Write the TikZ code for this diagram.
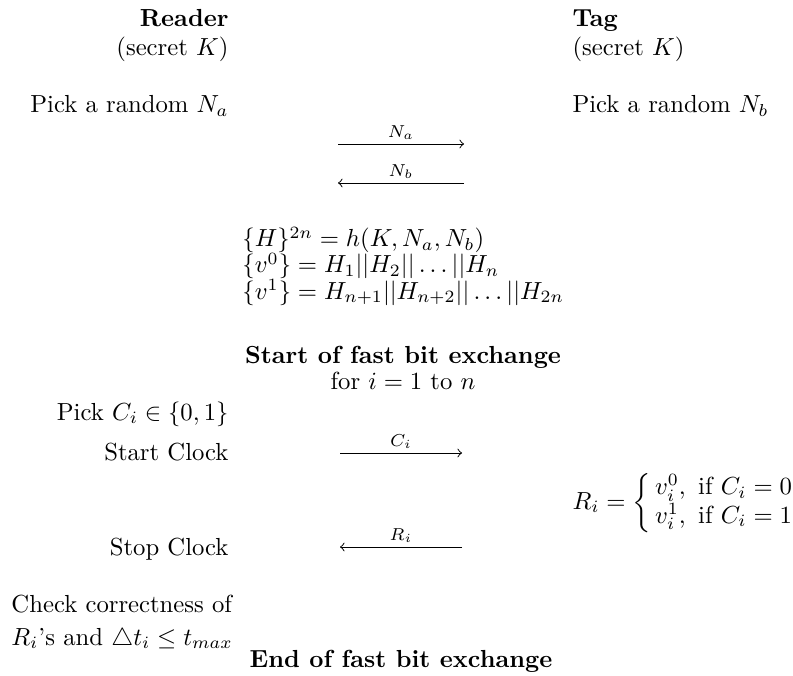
\documentclass[tikz,border=0pt]{standalone}
\usepackage{amsmath}
\usepackage{amssymb}

\begin{document}
\begin{tikzpicture}[
    x=0.405pt, y=-0.405pt,
    reader/.style={anchor=base east, inner sep=0pt},
    tag/.style={anchor=base west, inner sep=0pt},
    calc/.style={anchor=base west, inner sep=0pt},
    banner/.style={anchor=base, inner sep=0pt},
    msg/.style={->, line width=0.4pt},
    msglabel/.style={above, font=\scriptsize, inner sep=1.5pt},
    ]
    \useasboundingbox (0,0) rectangle (793,675);
    % parties
    \node[reader, font=\bfseries] (reader) at (229,27) {Reader};
    \node[reader] (rsecret) at (229,56) {(secret $K$)};
    \node[reader] (rnonce) at (229,113) {Pick a random $N_a$};
    \node[tag, font=\bfseries] (tag) at (572,27) {Tag};
    \node[tag] (tsecret) at (572,56) {(secret $K$)};
    \node[tag] (tnonce) at (572,113) {Pick a random $N_b$};
    % nonce exchange
    \coordinate (naL) at (338,144);
    \coordinate (naR) at (464,144);
    \coordinate (nbL) at (338,183);
    \coordinate (nbR) at (464,183);
    \draw[msg] (naL) -- node[msglabel] {$N_a$} (naR);
    \draw[msg] (nbR) -- node[msglabel] {$N_b$} (nbL);
    % key derivation
    \node[calc] (hash) at (242,247) {$\{H\}^{2n} = h(K,N_a,N_b)$};
    \node[calc] (vzero) at (242,273) {$\{v^0\} = H_1||H_2||\ldots||H_n$};
    \node[calc] (vone) at (242,299) {$\{v^1\} = H_{n+1}||H_{n+2}||\ldots||H_{2n}$};
    % fast bit exchange
    \node[banner, font=\bfseries] (start) at (403,363) {Start of fast bit exchange};
    \node[banner] (loop) at (403,389) {for $i=1$ to $n$};
    \node[reader] (pick) at (229,420) {Pick $C_i\in\{0,1\}$};
    \node[reader] (startclk) at (229,460) {Start Clock};
    \coordinate (ciL) at (340,453);
    \coordinate (ciR) at (462,453);
    \draw[msg] (ciL) -- node[msglabel] {$C_i$} (ciR);
    \node[anchor=west, inner sep=0pt] (resp) at (572,503)
    {\renewcommand{\arraystretch}{0.92}%
     $R_i = \left\{\,\begin{array}{@{}l@{}} v_i^0,\ \text{if}\ C_i=0\\ v_i^1,\ \text{if}\ C_i=1\end{array}\right.$};
    \node[reader] (stopclk) at (229,555) {Stop Clock};
    \coordinate (riL) at (340,547);
    \coordinate (riR) at (462,547);
    \draw[msg] (riR) -- node[msglabel] {$R_i$} (riL);
    % verification
    \node[calc] (check) at (11,612) {Check correctness of};
    \node[calc] (checkt) at (11,645) {$R_i$'s and $\triangle t_i \leq t_{max}$};
    \node[banner, font=\bfseries] (stop) at (401,667) {End of fast bit exchange};
\end{tikzpicture}
\end{document}
